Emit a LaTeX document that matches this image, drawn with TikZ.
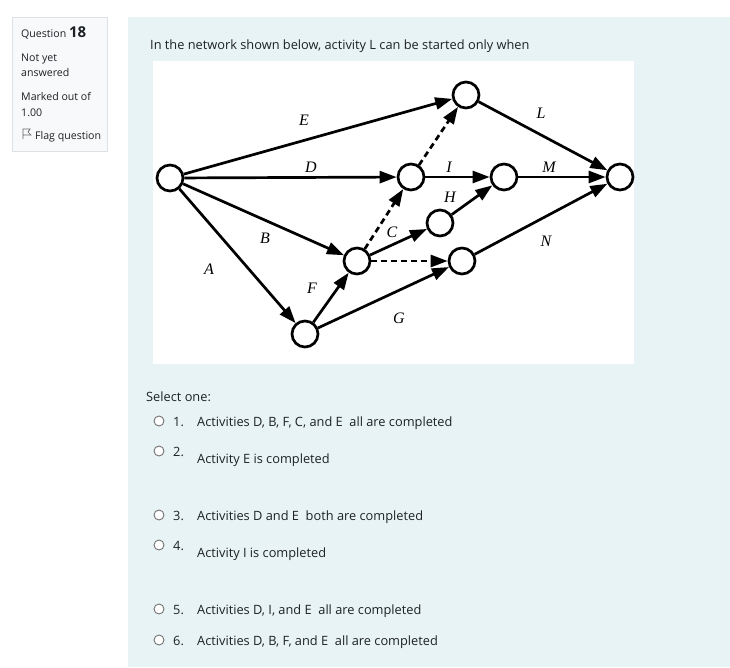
\documentclass[tikz,border=0pt]{standalone}
\usepackage{fontspec}
\setmainfont{Open Sans}
\newfontfamily\labelfont{Liberation Serif}
\usetikzlibrary{arrows.meta}

\definecolor{panelblue}{HTML}{E7F3F5}
\definecolor{infogray}{HTML}{F8F9FA}
\definecolor{infoborder}{HTML}{DEE2E6}
\definecolor{uitext}{HTML}{1D2125}

\tikzset{
  event/.style={circle, draw, line width=2.7pt, minimum size=26pt, inner sep=0pt, fill=white},
  act/.style={line width=2.7pt, -{Triangle[length=17pt,width=12pt]}},
  dummy/.style={act, dash pattern=on 6pt off 4pt},
  actlabel/.style={font=\labelfont\itshape\fontsize{16}{16}\selectfont, inner sep=0pt},
  ui/.style={font=\fontsize{12.8}{15}\selectfont, text=uitext, anchor=base west, inner sep=0pt},
  smallui/.style={ui, font=\fontsize{10.6}{13}\selectfont},
  radio/.style={circle, draw=black!55, line width=0.9pt, minimum size=10pt, inner sep=0pt, fill=white},
}

\begin{document}
\begin{tikzpicture}[x=1pt, y=-1pt]
  \useasboundingbox (0,0) rectangle (730,667);

  % Panels
  \fill[white] (0,0) rectangle (730,667);
  \draw[fill=infogray, draw=infoborder] (12,17) rectangle (107,151);
  \fill[panelblue] (128,17) rectangle (730,667);
  \fill[white] (153,61) rectangle (634,364);

  % Question info
  \node[smallui] (qno) at (21,37) {Question \textbf{\fontsize{15}{15}\selectfont 18}};
  \node[smallui] (state1) at (21,61) {Not yet};
  \node[smallui] (state2) at (21,76) {answered};
  \node[smallui] (mark1) at (21,100) {Marked out of};
  \node[smallui] (mark2) at (21,116) {1.00};
  \draw[black!60, line width=0.7pt] (23,139) -- (23,129) -- (30,129) -- (28,132) -- (31,135) -- (23,135);
  \node[smallui] (flag) at (35,139) {Flag question};

  % Question text
  \node[ui] (title) at (150,49) {In the network shown below, activity L can be started only when};

  % Events
  \node[event] (start) at (170,178) {};
  \node[event] (top) at (466,95) {};
  \node[event] (mid) at (411,177) {};
  \node[event] (merge) at (504,177) {};
  \node[event] (finish) at (620,177) {};
  \node[event] (hnode) at (440,223) {};
  \node[event] (center) at (357,261) {};
  \node[event] (gnode) at (462,261) {};
  \node[event] (bottom) at (305,334) {};

  % Activities
  \draw[act] (start) -- (top);
  \draw[act] (start) -- (mid);
  \draw[act] (start) -- (center);
  \draw[act] (start) -- (bottom);
  \draw[act] (bottom) -- (center);
  \draw[act] (bottom) -- (gnode);
  \draw[act] (center) -- (hnode);
  \draw[act] (mid) -- (merge);
  \draw[act] (hnode) -- (merge);
  \draw[act] (top) -- (finish);
  \draw[act] (merge) -- (finish);
  \draw[act] (gnode) -- (finish);

  % Dummy activities
  \draw[dummy] (center) -- (mid);
  \draw[dummy] (center) -- (gnode);
  \draw[dummy] (mid) -- (top);

  % Activity labels
  \node[actlabel] (labE) at (304,120) {E};
  \node[actlabel] (labD) at (311,167) {D};
  \node[actlabel] (labB) at (265,238) {B};
  \node[actlabel] (labA) at (209,269) {A};
  \node[actlabel] (labF) at (312,288) {F};
  \node[actlabel] (labG) at (399,318) {G};
  \node[actlabel] (labC) at (392,232) {C};
  \node[actlabel] (labI) at (449,167) {I};
  \node[actlabel] (labH) at (450,197) {H};
  \node[actlabel] (labL) at (541,113) {L};
  \node[actlabel] (labM) at (549,167) {M};
  \node[actlabel] (labN) at (546,241) {N};

  % Choices
  \node[ui] (select) at (146,401) {Select one:};
  \node[radio] (r1) at (159,421) {};
  \node[ui] (n1) at (173,426) {1.};
  \node[ui] (c1) at (197,426) {Activities D, B, F, C, and E\ \ all are completed};
  \node[radio] (r2) at (159,451) {};
  \node[ui] (n2) at (173,456) {2.};
  \node[ui] (c2) at (197,463) {Activity E is completed};
  \node[radio] (r3) at (159,515) {};
  \node[ui] (n3) at (173,520) {3.};
  \node[ui] (c3) at (197,520) {Activities D and E\ \ both are completed};
  \node[radio] (r4) at (159,545) {};
  \node[ui] (n4) at (173,550) {4.};
  \node[ui] (c4) at (197,557) {Activity I is completed};
  \node[radio] (r5) at (159,609) {};
  \node[ui] (n5) at (173,614) {5.};
  \node[ui] (c5) at (197,614) {Activities D, I, and E\ \ all are completed};
  \node[radio] (r6) at (159,640) {};
  \node[ui] (n6) at (173,645) {6.};
  \node[ui] (c6) at (197,645) {Activities D, B, F, and E\ \ all are completed};
\end{tikzpicture}
\end{document}
